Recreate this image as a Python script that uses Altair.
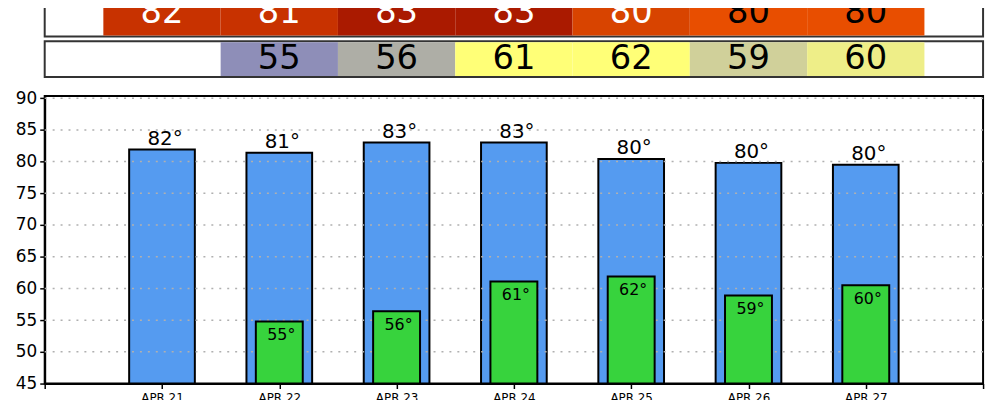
import altair as alt
import pandas as pd

days = ["APR 21", "APR 22", "APR 23", "APR 24", "APR 25", "APR 26", "APR 27"]
highs = [81.9, 81.4, 83.0, 83.0, 80.4, 79.8, 79.5]
high_labels = ["82", "81", "83", "83", "80", "80", "80"]
lows = [None, 54.8, 56.4, 61.1, 61.9, 58.9, 60.5]
low_labels = [None, "55", "56", "61", "62", "59", "60"]
high_fill = ["#C83200", "#C83200", "#AA1A00", "#AA1A00", "#D84400", "#E84E00", "#E84E00"]
high_text = ["white", "white", "white", "white", "white", "black", "black"]
low_fill = [None, "#8E8EB8", "#AEAEA6", "#FFFF77", "#FFFF77", "#D0D09A", "#EEEE88"]
y_ticks = [45, 50, 55, 60, 65, 70, 75, 80, 85, 90]

FONT = "DejaVu Sans"

df = pd.DataFrame({
    "day": days,
    "pos": list(range(1, len(days) + 1)),
    "high": highs,
    "high_label": high_labels,
    "low": lows,
    "low_label": low_labels,
    "high_fill": high_fill,
    "high_text": high_text,
    "low_fill": low_fill,
})
df["hx1"] = df["pos"] - 0.28
df["hx2"] = df["pos"] + 0.28
df["lx1"] = df["pos"] - 0.2
df["lx2"] = df["pos"] + 0.2
df["cx1"] = df["pos"] - 0.5
df["cx2"] = df["pos"] + 0.5
df["high_deg"] = df["high_label"] + "°"
df["low_deg"] = df["low_label"].apply(lambda v: v + "°" if isinstance(v, str) else None)
df["base"] = 45
lows_df = df[df["low"].notna()]

label_expr = "datum.value >= 1 && datum.value <= 7 ? " + str(days) + "[datum.value - 1] : ''"

xscale = alt.Scale(domain=[0, 8], nice=False, zero=False)
yscale = alt.Scale(domain=[45, 90.36], nice=False, zero=False)

x_axis = alt.Axis(values=list(range(0, 9)), labelExpr=label_expr, title=None,
                  grid=False, domain=True, domainColor="black", domainWidth=2,
                  tickColor="black", tickSize=5, tickWidth=1.5, labelOverlap=False,
                  labelFont=FONT, labelFontSize=12, labelColor="black", labelPadding=4)
y_axis = alt.Axis(values=y_ticks, title=None, grid=False, domain=True,
                  domainColor="black", domainWidth=2, tickColor="black",
                  tickSize=5, tickWidth=1.5, labelFont=FONT, labelFontSize=17,
                  labelOverlap=False, labelBound=False, labelFlush=False,
                  labelColor="black", labelPadding=3)

base = alt.Chart(df)

blue = base.mark_rect(fill="#559BF0", stroke="black", strokeWidth=2).encode(
    x=alt.X("hx1:Q", scale=xscale, axis=x_axis),
    x2="hx2:Q",
    y=alt.Y("high:Q", scale=yscale, axis=y_axis),
    y2="base:Q",
)

grid_df = pd.DataFrame({"g": y_ticks[1:]})
grid = alt.Chart(grid_df).mark_rule(color="#B0B0B0", strokeDash=[2, 6], strokeWidth=1.5).encode(
    y=alt.Y("g:Q", scale=yscale, axis=y_axis),
    x=alt.value(0), x2=alt.value(946),
)

green = alt.Chart(lows_df).mark_rect(fill="#37D33D", stroke="black", strokeWidth=2).encode(
    x=alt.X("lx1:Q", scale=xscale, axis=x_axis), x2="lx2:Q",
    y=alt.Y("low:Q", scale=yscale, axis=y_axis), y2="base:Q",
)

high_txt = base.mark_text(font=FONT, fontSize=20, baseline="bottom", dy=-1, dx=3, color="black").encode(
    x=alt.X("pos:Q", scale=xscale, axis=x_axis), y=alt.Y("high:Q", scale=yscale, axis=y_axis),
    text="high_deg:N",
)
low_txt = alt.Chart(lows_df).mark_text(font=FONT, fontSize=16, baseline="top", dy=6, dx=2, color="black").encode(
    x=alt.X("pos:Q", scale=xscale, axis=x_axis), y=alt.Y("low:Q", scale=yscale, axis=y_axis),
    text="low_deg:N",
)

# top tables
row1_frame = alt.Chart(pd.DataFrame({"a": [0]})).mark_rect(fill="white", stroke="#333333", strokeWidth=2).encode(
    x=alt.value(0), x2=alt.value(946), y=alt.value(-97), y2=alt.value(-60),
)
row2_frame = alt.Chart(pd.DataFrame({"a": [0]})).mark_rect(fill="white", stroke="#333333", strokeWidth=2).encode(
    x=alt.value(0), x2=alt.value(946), y=alt.value(-55), y2=alt.value(-19),
)
row1_cells = base.mark_rect().encode(
    x=alt.X("cx1:Q", scale=xscale, axis=x_axis), x2="cx2:Q",
    y=alt.value(-96), y2=alt.value(-61),
    fill=alt.Fill("high_fill:N", scale=None),
)
row2_cells = alt.Chart(lows_df).mark_rect().encode(
    x=alt.X("cx1:Q", scale=xscale, axis=x_axis), x2="cx2:Q",
    y=alt.value(-54), y2=alt.value(-20),
    fill=alt.Fill("low_fill:N", scale=None),
)
row1_txt = base.mark_text(font=FONT, fontSize=34, baseline="middle").encode(
    x=alt.X("pos:Q", scale=xscale, axis=x_axis), y=alt.value(-83),
    text="high_label:N", color=alt.Color("high_text:N", scale=None),
)
row2_txt = alt.Chart(lows_df).mark_text(font=FONT, fontSize=34, baseline="middle", color="black").encode(
    x=alt.X("pos:Q", scale=xscale, axis=x_axis), y=alt.value(-37),
    text="low_label:N",
)

chart = alt.layer(
    row1_frame, row2_frame, row1_cells, row2_cells, row1_txt, row2_txt,
    blue, grid, green, high_txt, low_txt,
).properties(
    width=946, height=290,
    autosize=alt.AutoSizeParams(type="none"),
    padding={"left": 37, "top": 87, "right": 9, "bottom": 20},
).configure_view(stroke="black", strokeWidth=2)

chart.save("out.html", embed_options={"renderer": "svg", "actions": False})
